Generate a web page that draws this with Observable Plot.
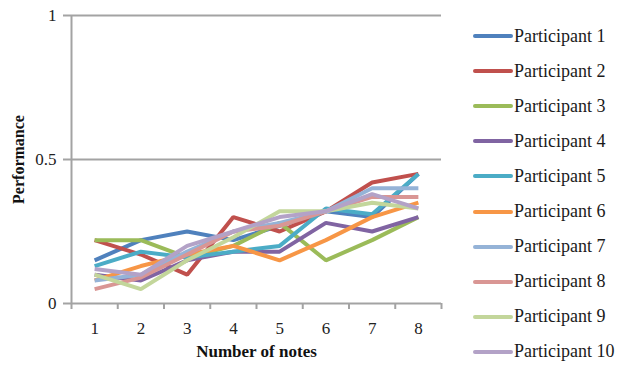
<!DOCTYPE html>
<html>
<head>
<meta charset="utf-8">
<script src="https://cdn.jsdelivr.net/npm/d3@7"></script>
<script src="https://cdn.jsdelivr.net/npm/@observablehq/plot@0.6"></script>
<style>
  html, body { margin: 0; padding: 0; background: #fff; }
  #wrap { position: relative; width: 619px; height: 366px; font-family: "Liberation Serif", "Times New Roman", serif; }
  #legend { position: absolute; left: 473px; top: 0; }
  .row { position: absolute; left: 0; height: 22px; display: flex; align-items: center; white-space: nowrap; }
  .sw { width: 40px; height: 4px; border-radius: 2px; margin-right: 1px; }
  .lab { font-size: 18px; color: #1a1a1a; }
</style>
</head>
<body>
<div id="wrap"><div id="legend"></div></div>
<script>
const notes = [1, 2, 3, 4, 5, 6, 7, 8];
const participants = ["Participant 1", "Participant 2", "Participant 3", "Participant 4", "Participant 5",
  "Participant 6", "Participant 7", "Participant 8", "Participant 9", "Participant 10"];
const colors = ["#4F81BD", "#C0504D", "#9BBB59", "#8064A2", "#4BACC6",
  "#F79646", "#95B3D7", "#D99694", "#C3D69B", "#B3A2C7"];

const p1 = [0.15, 0.22, 0.25, 0.22, 0.27, 0.32, 0.30, 0.45];
const p2 = [0.22, 0.17, 0.10, 0.30, 0.25, 0.32, 0.42, 0.45];
const p3 = [0.22, 0.22, 0.16, 0.20, 0.28, 0.15, 0.22, 0.30];
const p4 = [0.10, 0.08, 0.15, 0.18, 0.18, 0.28, 0.25, 0.30];
const p5 = [0.13, 0.18, 0.16, 0.18, 0.20, 0.33, 0.31, 0.45];
const p6 = [0.08, 0.13, 0.17, 0.20, 0.15, 0.22, 0.30, 0.35];
const p7 = [0.08, 0.10, 0.18, 0.25, 0.28, 0.32, 0.40, 0.40];
const p8 = [0.05, 0.09, 0.17, 0.25, 0.27, 0.32, 0.37, 0.37];
const p9 = [0.10, 0.05, 0.15, 0.23, 0.32, 0.32, 0.35, 0.33];
const p10 = [0.12, 0.10, 0.20, 0.25, 0.30, 0.32, 0.38, 0.33];
const series = [p1, p2, p3, p4, p5, p6, p7, p8, p9, p10];

const yTicks = [0, 0.5, 1];
const xBounds = [0.5, 1.5, 2.5, 3.5, 4.5, 5.5, 6.5, 7.5, 8.5];
const xTitle = "Number of notes";
const yTitle = "Performance";

const rows = [];
series.forEach((vals, i) => vals.forEach((v, j) => rows.push({participant: participants[i], note: notes[j], value: v})));

const gray = "#a3a3a3";
const chart = Plot.plot({
  width: 619,
  height: 366,
  marginLeft: 71,
  marginRight: 178,
  marginTop: 15,
  marginBottom: 63,
  style: {fontFamily: "'Liberation Serif', 'Times New Roman', serif", fontSize: "17px", color: "#222", background: "transparent"},
  x: {type: "linear", domain: [0.5, 8.5]},
  y: {domain: [0, 1]},
  color: {domain: participants, range: colors},
  marks: [
    Plot.ruleY([0.5, 1], {stroke: gray, strokeWidth: 2}),
    Plot.line(rows, {x: "note", y: "value", z: "participant", stroke: "participant", strokeWidth: 4, strokeLinejoin: "miter", strokeLinecap: "butt"}),
    Plot.ruleY([0], {stroke: gray, strokeWidth: 2}),
    Plot.ruleX([0.5], {stroke: gray, strokeWidth: 2}),
    Plot.axisY({ticks: yTicks, tickSize: 8, tickPadding: 7, tickFormat: d => String(d), label: null, stroke: gray, strokeWidth: 2, fontSize: 17}),
    Plot.axisX({ticks: notes, tickSize: 0, tickPadding: 18, tickFormat: d => String(d), label: null, fontSize: 17}),
    Plot.axisX({ticks: xBounds, tickSize: 6, tickFormat: () => "", label: null, stroke: gray, strokeWidth: 2}),
    Plot.text([yTitle], {frameAnchor: "left", textAnchor: "middle", dx: -53, rotate: -90, fontWeight: "bold", fontSize: 16, fill: "#111"}),
    Plot.text([xTitle], {frameAnchor: "bottom", textAnchor: "middle", dy: 53, fontWeight: "bold", fontSize: 17, fill: "#111"})
  ]
});
document.getElementById("wrap").prepend(chart);

const legend = document.getElementById("legend");
participants.forEach((p, i) => {
  const row = document.createElement("div");
  row.className = "row";
  row.style.top = (36 + 35.1 * i - 11) + "px";
  const sw = document.createElement("div");
  sw.className = "sw";
  sw.style.background = colors[i];
  const lab = document.createElement("span");
  lab.className = "lab";
  lab.textContent = p;
  row.appendChild(sw);
  row.appendChild(lab);
  legend.appendChild(row);
});
</script>
</body>
</html>
